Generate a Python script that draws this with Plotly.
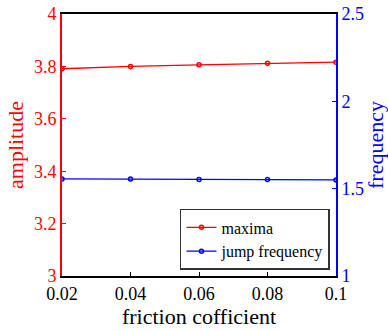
import plotly.graph_objects as go

friction = [0.02, 0.04, 0.06, 0.08, 0.1]
maxima = [3.791, 3.800, 3.806, 3.812, 3.816]
jump_freq = [1.556, 1.555, 1.553, 1.552, 1.550]

x_ticks = [0.02, 0.04, 0.06, 0.08, 0.1]
x_ticklabels = ["0.02", "0.04", "0.06", "0.08", "0.1"]
y1_ticks = [3, 3.2, 3.4, 3.6, 3.8, 4]
y1_ticklabels = ["3", "3.2", "3.4", "3.6", "3.8", "4"]
y2_ticks = [1, 1.5, 2, 2.5]
y2_ticklabels = ["1", "1.5", "2", "2.5"]

RED = "#ff0000"
BLUE = "#0000ff"
FONT = "Liberation Serif"

fig = go.Figure()
fig.add_trace(go.Scatter(
    x=friction, y=maxima, name="maxima", mode="lines+markers",
    line=dict(color=RED, width=1.3),
    marker=dict(symbol="circle-open", size=4, color=RED, line=dict(width=1.5)),
    yaxis="y"))
fig.add_trace(go.Scatter(
    x=friction, y=jump_freq, name="jump frequency", mode="lines+markers",
    line=dict(color=BLUE, width=1.3),
    marker=dict(symbol="circle-open", size=4, color=BLUE, line=dict(width=1.5)),
    yaxis="y2"))

fig.update_layout(
    width=388, height=331,
    margin=dict(l=62, r=52, t=14, b=55),
    paper_bgcolor="white", plot_bgcolor="white",
    font=dict(family=FONT, size=18, color="black"),
    showlegend=True,
    legend=dict(
        x=0.978, y=0.023, xanchor="right", yanchor="bottom",
        bgcolor="white", bordercolor="#333333", borderwidth=1.5,
        font=dict(family=FONT, size=16, color="black"),
        tracegroupgap=0, itemwidth=30,
    ),
    xaxis=dict(
        range=[0.02, 0.1], tickvals=x_ticks, ticktext=x_ticklabels,
        showgrid=False, zeroline=False,
        showline=True, linecolor="black", linewidth=1.5, mirror=True,
        ticks="inside", ticklen=4, tickcolor="black", tickwidth=1,
        ticklabelstandoff=1,
        tickfont=dict(family=FONT, size=18, color="black"),
        title=dict(text="friction cofficient", font=dict(family=FONT, size=22, color="black"), standoff=0),
        automargin=False,
    ),
    yaxis=dict(
        range=[3, 4], tickvals=y1_ticks, ticktext=y1_ticklabels,
        showgrid=False, zeroline=False,
        showline=True, linecolor=RED, linewidth=2,
        ticks="inside", ticklen=4, tickcolor=RED, tickwidth=1,
        tickfont=dict(family=FONT, size=18, color=RED),
        title=dict(text="amplitude", font=dict(family=FONT, size=22, color=RED), standoff=4),
        automargin=False,
    ),
    yaxis2=dict(
        range=[1, 2.5], tickvals=y2_ticks, ticktext=y2_ticklabels,
        overlaying="y", side="right", anchor="x",
        showgrid=False, zeroline=False,
        showline=True, linecolor=BLUE, linewidth=2,
        ticks="inside", ticklen=4, tickcolor=BLUE, tickwidth=1,
        tickfont=dict(family=FONT, size=18, color=BLUE),
        title=dict(text="frequency", font=dict(family=FONT, size=22, color=BLUE), standoff=14),
        automargin=False,
    ),
)

fig.write_html("out.html")
